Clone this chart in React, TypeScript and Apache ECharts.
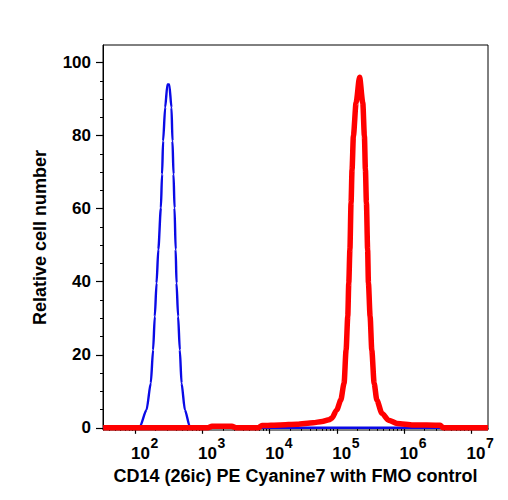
import React, { useEffect, useRef } from "react";
import * as echarts from "echarts";

// Channel intensity (linear units) and relative cell number for each histogram.
const fmoIntensity = [
  33, 98, 116, 146, 169, 183, 194, 206, 219, 239, 249, 258, 277, 299, 319, 344,
  356, 369, 382, 397, 409, 432, 458, 486, 545, 646, 716, 17950000,
];
const fmoCount = [
  0, 0, 0.3, 4.9, 12.2, 21.3, 30.5, 39.6, 48.8, 60.2, 69.4, 78.5, 87.7, 94.0, 94.0, 87.7,
  78.5, 69.4, 60.2, 48.8, 39.6, 30.5, 21.3, 12.2, 4.9, 0.3, 0, 0,
];

const cd14Intensity = [
  33, 1200, 1380, 2740, 3140, 6680, 7670, 14260, 25530, 44260, 60390, 76740, 84140,
  100000, 114800, 128500, 137700, 145900, 151000, 157000, 163300, 169000, 177000,
  194100, 218800, 244300, 258200, 267300, 276700, 288400, 296500, 314100, 332700,
  360600, 395400, 469900, 588800, 794300, 1377000, 3483000, 3864000, 17950000,
];
const cd14Count = [
  0, 0, 0.4, 0.4, 0, 0, 0.6, 0.8, 1.0, 1.4, 1.7, 2.2, 2.6,
  4.9, 7.6, 12.2, 21.3, 30.5, 39.6, 48.8, 61.6, 70.7, 79.9,
  89.0, 96.0, 89.0, 79.9, 70.7, 61.6, 48.8, 39.6, 30.5, 21.3,
  12.2, 7.6, 4.0, 2.1, 1.2, 0.8, 0.7, 0, 0,
];

// Axis ranges and tick marks
const xMinIntensity = 32.8;
const xMaxIntensity = 17950000;
const decadeExponents = [2, 3, 4, 5, 6, 7];
const decadeBase = "10";
const yMin = -0.6;
const yMax = 104.8;
const yMajorTicks = [0, 20, 40, 60, 80, 100];
const yMinorTicks = [5, 10, 15, 25, 30, 35, 45, 50, 55, 65, 70, 75, 85, 90, 95, 100];

const FONT = "'Liberation Sans', Arial, Helvetica, sans-serif";

const toLogPairs = (xs: number[], ys: number[]) => xs.map((x, i) => [Math.log10(x), ys[i]]);

// Log-decade minor tick positions (2..9 x 10^n) inside the axis range
const minorDecadeTicks = (): number[] => {
  const out: number[] = [];
  for (let e = 1; e <= 7; e++) {
    for (let k = 2; k <= 9; k++) {
      const v = Math.log10(k * Math.pow(10, e));
      if (v >= Math.log10(xMinIntensity) && v <= Math.log10(xMaxIntensity)) out.push(v);
    }
  }
  return out;
};

export default function App() {
  const ref = useRef<HTMLDivElement>(null);

  useEffect(() => {
    if (!ref.current) return;
    const chart = echarts.init(ref.current, undefined, { renderer: "svg" });
    const xMin = Math.log10(xMinIntensity);
    const xMax = Math.log10(xMaxIntensity);
    const axisLine = { show: true, lineStyle: { color: "#000", width: 1 } };
    const bareAxis = {
      type: "value",
      min: xMin,
      max: xMax,
      position: "bottom",
      offset: 0,
      axisLine: { show: false },
      splitLine: { show: false },
    };

    chart.setOption({
      animation: false,
      backgroundColor: "#fff",
      grid: {
        left: 103,
        right: 20,
        top: 45,
        bottom: 70,
        show: true,
        borderColor: "#000",
        borderWidth: 1,
        containLabel: false,
        outerBoundsMode: "none",
      },
      xAxis: [
        {
          type: "value",
          min: xMin,
          max: xMax,
          position: "bottom",
          name: "CD14 (26ic) PE Cyanine7 with FMO control",
          nameLocation: "middle",
          nameGap: 33,
          nameTextStyle: { fontFamily: FONT, fontWeight: "bold", fontSize: 18, color: "#000" },
          axisLine,
          splitLine: { show: false },
          axisTick: {
            show: true,
            length: 6,
            customValues: decadeExponents,
            lineStyle: { color: "#000", width: 1.2 },
          },
          // mantissa "10" of each decade label
          axisLabel: {
            show: true,
            margin: 15,
            customValues: decadeExponents,
            formatter: () => decadeBase,
            fontFamily: FONT,
            fontWeight: "bold",
            fontSize: 17,
            lineHeight: 17,
            color: "#000",
            align: "center",
            padding: [0, 0, 0, 10],
          },
        },
        {
          ...bareAxis,
          axisLabel: { show: false },
          axisTick: {
            show: true,
            length: 3,
            customValues: minorDecadeTicks(),
            lineStyle: { color: "#000", width: 1 },
          },
        },
        {
          // superscript exponent of each decade label
          ...bareAxis,
          axisTick: { show: false },
          axisLabel: {
            show: true,
            margin: 6,
            customValues: decadeExponents,
            formatter: (v: number) => String(Math.round(v)),
            fontFamily: FONT,
            fontWeight: "bold",
            fontSize: 14,
            lineHeight: 14,
            color: "#000",
            align: "left",
            padding: [0, 0, 0, 15],
          },
        },
      ],
      yAxis: [
        {
          type: "value",
          min: yMin,
          max: yMax,
          position: "left",
          name: "Relative cell number",
          nameLocation: "middle",
          nameGap: 54,
          nameTextStyle: { fontFamily: FONT, fontWeight: "bold", fontSize: 18, color: "#000" },
          axisLine,
          splitLine: { show: false },
          axisTick: {
            show: true,
            length: 7,
            customValues: yMajorTicks,
            lineStyle: { color: "#000", width: 1.2 },
          },
          axisLabel: {
            show: true,
            margin: 12,
            customValues: yMajorTicks,
            fontFamily: FONT,
            fontWeight: "bold",
            fontSize: 17,
            color: "#000",
          },
        },
        {
          type: "value",
          min: yMin,
          max: yMax,
          position: "left",
          offset: 0,
          axisLine: { show: false },
          splitLine: { show: false },
          axisLabel: { show: false },
          axisTick: {
            show: true,
            length: 3,
            customValues: yMinorTicks,
            lineStyle: { color: "#000", width: 1 },
          },
        },
      ],
      series: [
        {
          name: "FMO control",
          type: "line",
          xAxisIndex: 0,
          yAxisIndex: 0,
          data: toLogPairs(fmoIntensity, fmoCount),
          showSymbol: false,
          smooth: 0.25,
          smoothMonotone: "x",
          lineStyle: { color: "#0a0ae6", width: 2.4 },
          z: 2,
        },
        {
          name: "CD14 (26ic) PE Cyanine7",
          type: "line",
          xAxisIndex: 0,
          yAxisIndex: 0,
          data: toLogPairs(cd14Intensity, cd14Count),
          showSymbol: false,
          smooth: 0.25,
          smoothMonotone: "x",
          lineStyle: { color: "#ff0000", width: 5.5 },
          z: 3,
        },
      ],
    });

    return () => chart.dispose();
  }, []);

  return (
    <div
      ref={ref}
      style={{ position: "fixed", left: 0, top: 0, width: 508, height: 500, background: "#fff" }}
    />
  );
}
